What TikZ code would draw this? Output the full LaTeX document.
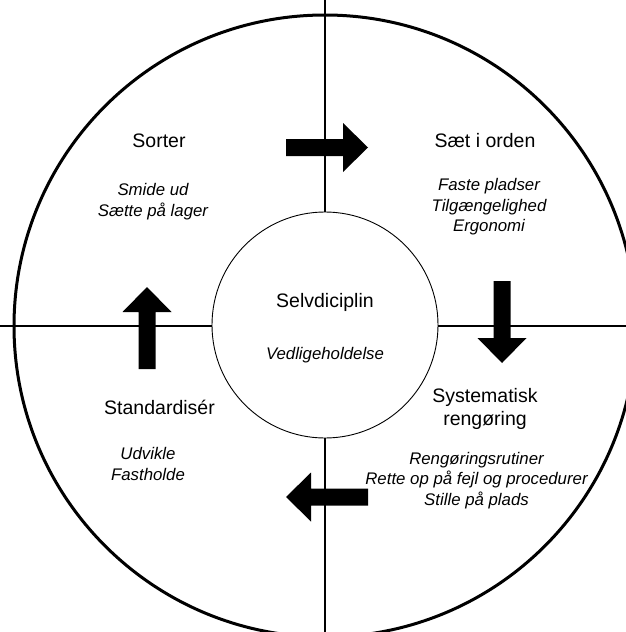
\documentclass[tikz,border=0pt]{standalone}
\usepackage{fontspec}
\setmainfont{Liberation Sans}
\begin{document}
\begin{tikzpicture}[x=1pt,y=-1pt,
  title/.style={anchor=base,inner sep=0pt,font=\fontsize{19.5}{22}\selectfont},
  item/.style={anchor=base,inner sep=0pt,font=\fontsize{16.8}{20.5}\selectfont\itshape},
  pics/fatarrow/.style={code={
    \fill[black] (0,-8.5) -- (57,-8.5) -- (57,-24.5) -- (82,0) -- (57,24.5)
      -- (57,8.5) -- (0,8.5) -- cycle;}}]
\useasboundingbox (0,0) rectangle (626,632);
\clip (0,0) rectangle (626,632);
\fill[white] (0,0) rectangle (626,632);

% outer wheel and quadrant dividers
\coordinate (c) at (325,326);
\draw[line width=3pt] (c) circle[radius=311];
\coordinate (ntop) at (325,0);
\coordinate (nbot) at (325,640);
\coordinate (wl) at (0,326);
\coordinate (wr) at (640,326);
\draw[line width=2.6pt] (ntop) -- (nbot);
\draw[line width=2.6pt] (wl) -- (wr);

% centre circle
\node[circle,draw,line width=0.9pt,fill=white,minimum size=226pt,inner sep=0pt] (hub) at (325,325) {};

% block arrows between the quadrants
\pic at (286,147.5) {fatarrow};
\pic[rotate=-90] at (502,281) {fatarrow};
\pic[rotate=180] at (368,497) {fatarrow};
\pic[rotate=90] at (147,369) {fatarrow};

% quadrant texts
\node[title] (sorter) at (159,147) {Sorter};
\node[item] (s1) at (153,195.5) {Smide ud};
\node[item] (s2) at (153,216) {Sætte på lager};

\node[title] (orden) at (485,147) {Sæt i orden};
\node[item] (o1) at (489,190.5) {Faste pladser};
\node[item] (o2) at (489,211) {Tilgængelighed};
\node[item] (o3) at (489,231.5) {Ergonomi};

\node[title] (selv) at (325,307) {Selvdiciplin};
\node[item] (v1) at (325,359.3) {Vedligeholdelse};

\node[title] (std) at (159.5,414) {Standardisér};
\node[item] (d1) at (148,459.5) {Udvikle};
\node[item] (d2) at (148,480) {Fastholde};

\node[title] (sys1) at (485,402.5) {Systematisk};
\node[title] (sys2) at (485,425) {rengøring};
\node[item] (r1) at (476.5,464) {Rengøringsrutiner};
\node[item] (r2) at (476.5,484.5) {Rette op på fejl og procedurer};
\node[item] (r3) at (476.5,505) {Stille på plads};
\end{tikzpicture}
\end{document}
